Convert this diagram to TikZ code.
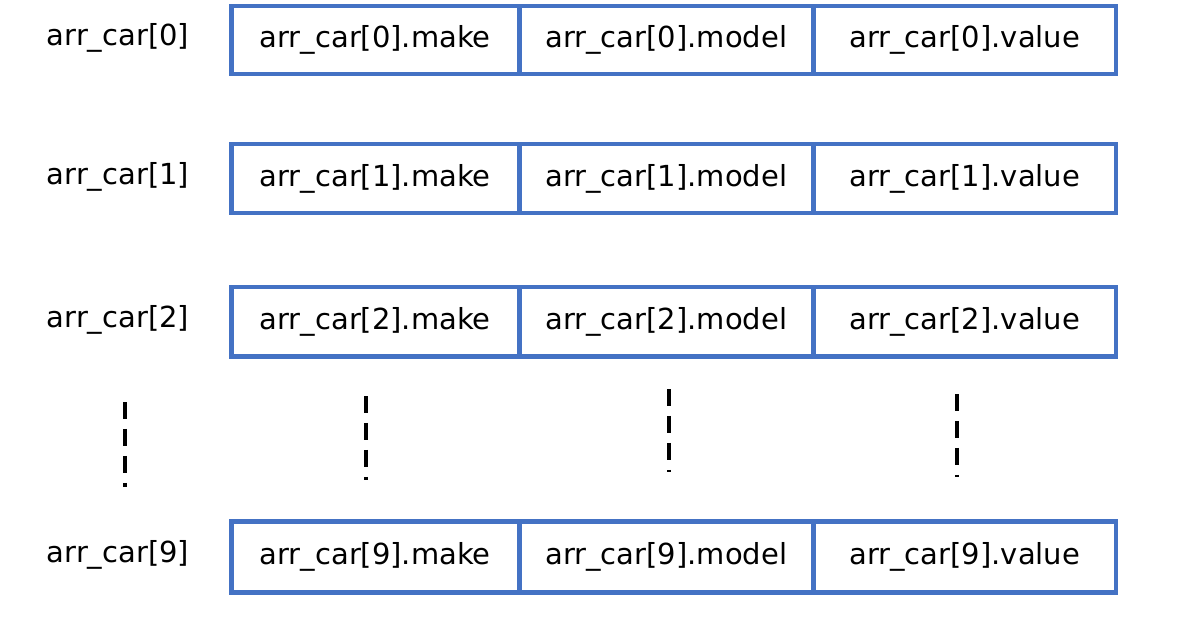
\documentclass[tikz,border=0pt]{standalone}
\usepackage{fontspec}
\setmainfont{DejaVu Sans}
\definecolor{cellblue}{RGB}{68,114,196}
\begin{document}
\begin{tikzpicture}[x=0.02cm,y=-0.02cm,
  cell/.style={draw=cellblue,line width=0.09cm,inner sep=0pt,anchor=north west,font=\fontsize{16.5}{18}\selectfont},
  lbl/.style={font=\fontsize{16.5}{18}\selectfont},
  dashline/.style={line width=0.07cm,dash pattern=on 0.34cm off 0.2cm}]
\useasboundingbox (0,0) rectangle (1196,628);
\foreach \i/\t/\b in {0/4/72,1/142/211,2/285/354,9/519/590}{
  \pgfmathsetmacro{\h}{(\b-\t)*0.02}
  \node[cell,minimum width=5.76cm,minimum height=\h cm] (make\i) at (229,\t) {arr\_car[\i].make};
  \node[cell,minimum width=5.88cm,minimum height=\h cm] (model\i) at (517,\t) {arr\_car[\i].model};
  \node[cell,minimum width=6.06cm,minimum height=\h cm] (value\i) at (811,\t) {arr\_car[\i].value};
  \node[lbl] (lab\i) at (118,{(\t+\b)/2}) {arr\_car[\i]};
}
\draw[dashline] (125,402) -- (125,487);
\draw[dashline] (366,396) -- (366,480);
\draw[dashline] (669,389) -- (669,472);
\draw[dashline] (957,394) -- (957,477);
\end{tikzpicture}
\end{document}
